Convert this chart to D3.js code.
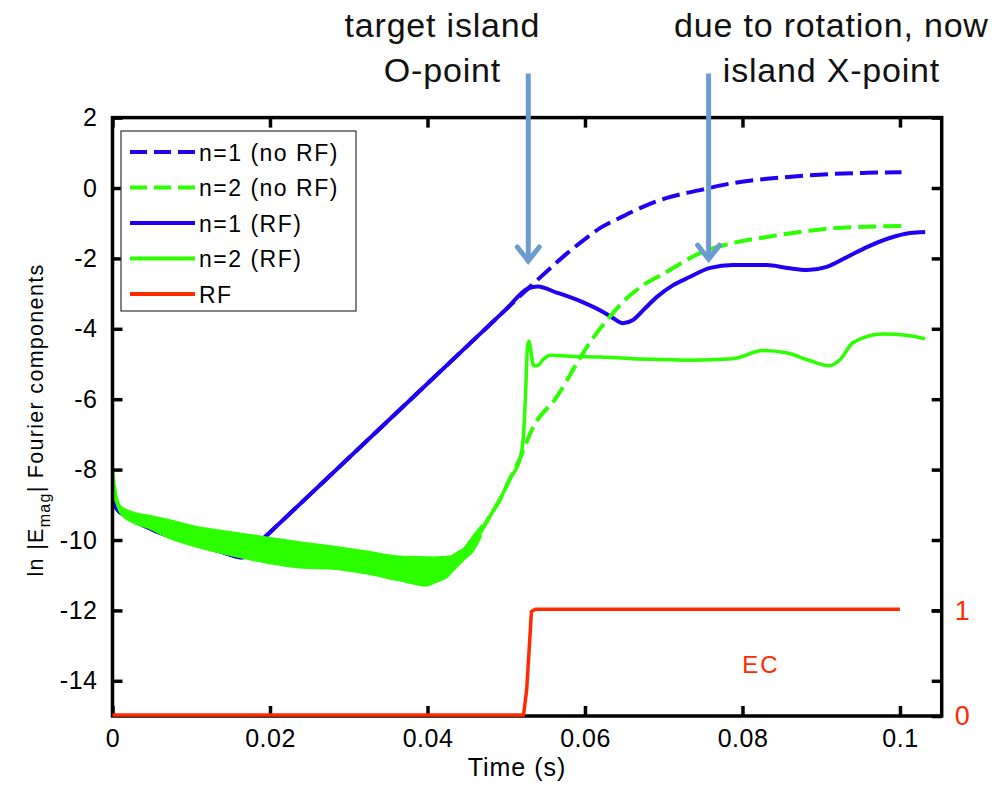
<!DOCTYPE html>
<html>
<head>
<meta charset="utf-8">
<script src="https://cdn.jsdelivr.net/npm/d3@7"></script>
<style>
  html, body { margin: 0; padding: 0; background: #fff; }
  svg { display: block; font-family: "Liberation Sans", Arial, Helvetica, sans-serif; }
</style>
</head>
<body>
<svg id="chart" width="1003" height="790"></svg>
<script>
// ---------------- DATA ----------------
const xTicks = [0, 0.02, 0.04, 0.06, 0.08, 0.1];
const xTickLabels = ["0", "0.02", "0.04", "0.06", "0.08", "0.1"];
const yTicks = [2, 0, -2, -4, -6, -8, -10, -12, -14];
const rfTicks = [0, 1];
const rfTickLabels = ["0", "1"];

// n=1 shared early evolution (identical with and without RF), linear growth phase
const n1Early = [[0,-8.9],[0.0005,-9.1],[0.002,-9.35],[0.005,-9.7],[0.008,-9.95],[0.011,-10.15],[0.014,-10.35],[0.0166,-10.5],[0.0171,-10.394],[0.025,-8.725],[0.035,-6.612],[0.045,-4.498],[0.05,-3.442],[0.0528,-2.85]];
// n=1 without RF (dashed blue)
const n1NoRF = [[0.055,-2.4],[0.0575,-1.9],[0.06,-1.45],[0.0619,-1.14],[0.0644,-0.85],[0.067,-0.57],[0.0704,-0.28],[0.0746,-0.06],[0.0788,0.14],[0.0831,0.26],[0.0873,0.34],[0.0916,0.4],[0.0958,0.43],[0.1002,0.45]];
// n=1 with RF (solid blue)
const n1RF = [[0.054,-2.8],[0.0564,-2.97],[0.0597,-3.24],[0.0623,-3.52],[0.0636,-3.7],[0.0648,-3.84],[0.0661,-3.75],[0.0674,-3.47],[0.0691,-3.1],[0.0712,-2.76],[0.0733,-2.53],[0.0759,-2.27],[0.0788,-2.19],[0.0831,-2.19],[0.0857,-2.27],[0.0882,-2.33],[0.0907,-2.24],[0.0933,-1.96],[0.0958,-1.68],[0.0987,-1.42],[0.1013,-1.28],[0.1032,-1.25]];

// n=2 early oscillating band (upper / lower envelope), shared by both runs
const n2BandUpper = [[0,-7.87],[0.0002,-8.4],[0.0005,-8.78],[0.001,-9.06],[0.0026,-9.23],[0.0069,-9.43],[0.0111,-9.66],[0.0153,-9.8],[0.0196,-9.94],[0.0238,-10.08],[0.028,-10.2],[0.0323,-10.34],[0.0365,-10.48],[0.0408,-10.51],[0.0429,-10.48],[0.0445,-10.28],[0.0467,-9.66]];
const n2BandLower = [[0,-8.1],[0.0003,-8.8],[0.001,-9.2],[0.0026,-9.49],[0.0048,-9.66],[0.0069,-9.9],[0.0111,-10.2],[0.0153,-10.43],[0.0196,-10.63],[0.0238,-10.77],[0.028,-10.8],[0.0323,-10.94],[0.0365,-11.14],[0.0399,-11.28],[0.0424,-11.05],[0.0441,-10.65],[0.0458,-10.28],[0.0467,-9.9]];
// n=2 shared growth after the band
const n2Rise = [[0.0467,-9.78],[0.048,-9.3],[0.0492,-8.85],[0.0505,-8.25],[0.0518,-7.65]];
// n=2 without RF (dashed green)
const n2NoRF = [[0.0534,-6.8],[0.0564,-5.94],[0.059,-4.97],[0.0606,-4.4],[0.0628,-3.75],[0.0648,-3.24],[0.0674,-2.76],[0.07,-2.43],[0.0746,-1.85],[0.0788,-1.56],[0.0831,-1.39],[0.0873,-1.25],[0.0916,-1.14],[0.0958,-1.1],[0.1002,-1.08]];
// n=2 with RF (solid green)
const n2RF = [[0.0522,-7.0],[0.0525,-5.6],[0.0527,-4.5],[0.0529,-4.35],[0.0531,-4.6],[0.0535,-5.05],[0.0539,-5.05],[0.0548,-4.85],[0.0556,-4.75],[0.058,-4.78],[0.062,-4.8],[0.066,-4.85],[0.07,-4.87],[0.0733,-4.89],[0.0788,-4.85],[0.0826,-4.62],[0.0857,-4.69],[0.0885,-4.9],[0.091,-5.05],[0.0925,-4.85],[0.094,-4.4],[0.0978,-4.15],[0.1008,-4.18],[0.1032,-4.28]];

// RF (EC) on/off, right axis
const rfSignal = [[0,0],[0.0522,0],[0.0526,0.24],[0.053,0.73],[0.0532,0.98],[0.0537,1],[0.1,1]];

const legendLabels = ["n=1 (no RF)", "n=2 (no RF)", "n=1 (RF)", "n=2 (RF)", "RF"];
const annotationLines = [["target island", "O-point"], ["due to rotation, now", "island X-point"]];
const annotationArrows = [[0.0528, -2.1], [0.0757, -2.05]];

// ---------------- STYLES ----------------
const BLUE = "#1f00f2", GREEN = "#2bff00", RED = "#ff2a00", ARROW = "#6b9bd1";

// ---------------- SCALES ----------------
const svg = d3.select("#chart");
const L = 112.5, R = 941.7, T = 117.6, B = 716;
const x = d3.scaleLinear().domain([0, 0.10530]).range([L, R]);
const y = d3.scaleLinear().domain([-15, 2]).range([B, T]);
const yR = d3.scaleLinear().domain([0, 1]).range([y(-15), y(-12)]);

const line = d3.line().x(d => x(d[0])).y(d => y(d[1])).curve(d3.curveMonotoneX);
const lineR = d3.line().x(d => x(d[0])).y(d => yR(d[1]));
const area = d3.area().x(d => x(d[0])).y0(d => y(d[1])).y1(d => y(d[2])).curve(d3.curveMonotoneX);

const plot = svg.append("g");
plot.append("clipPath").attr("id", "clip").append("rect")
  .attr("x", L).attr("y", T).attr("width", R - L).attr("height", B - T);
const g = plot.append("g").attr("clip-path", "url(#clip)");

// blue curves
g.append("path").attr("d", line(n1Early.concat(n1NoRF)))
  .attr("fill", "none").attr("stroke", BLUE).attr("stroke-width", 4).attr("stroke-dasharray", "18,7");
g.append("path").attr("d", line(n1Early.concat(n1RF)))
  .attr("fill", "none").attr("stroke", BLUE).attr("stroke-width", 4);

// green band: merge envelopes onto common times
const bandTimes = Array.from(new Set(n2BandUpper.map(d => d[0]).concat(n2BandLower.map(d => d[0])))).sort((a, b) => a - b);
const interp = (arr, t) => {
  for (let i = 0; i < arr.length - 1; i++) {
    if (t >= arr[i][0] && t <= arr[i + 1][0]) {
      const f = (t - arr[i][0]) / (arr[i + 1][0] - arr[i][0]);
      return arr[i][1] + f * (arr[i + 1][1] - arr[i][1]);
    }
  }
  return arr[arr.length - 1][1];
};
const band = bandTimes.map(t => [t, interp(n2BandLower, t), interp(n2BandUpper, t)]);
g.append("path").attr("d", area(band)).attr("fill", GREEN).attr("stroke", GREEN).attr("stroke-width", 3);

g.append("path").attr("d", line(n2Rise.concat(n2NoRF)))
  .attr("fill", "none").attr("stroke", GREEN).attr("stroke-width", 4).attr("stroke-dasharray", "18,7");
g.append("path").attr("d", line(n2Rise.concat(n2RF)))
  .attr("fill", "none").attr("stroke", GREEN).attr("stroke-width", 3.5);

// ---------------- AXES ----------------
const styleAxis = sel => {
  sel.select(".domain").remove();
  sel.selectAll(".tick line").attr("stroke", "#000").attr("stroke-width", 3.5);
  sel.selectAll(".tick text").attr("font-size", 25).attr("fill", "#000").attr("letter-spacing", "0.5px");
};
svg.append("g").attr("transform", `translate(0,${B})`)
  .call(d3.axisBottom(x).tickValues(xTicks).tickFormat((d, i) => xTickLabels[i]).tickSize(-10).tickPadding(13))
  .call(styleAxis);
svg.append("g").attr("transform", `translate(0,${T})`)
  .call(d3.axisTop(x).tickValues(xTicks).tickFormat("").tickSize(-10))
  .call(styleAxis);
svg.append("g").attr("transform", `translate(${L},0)`)
  .call(d3.axisLeft(y).tickValues(yTicks).tickFormat(d => d).tickSize(-10).tickPadding(15))
  .call(styleAxis);
svg.append("g").attr("transform", `translate(${R},0)`)
  .call(d3.axisRight(y).tickValues(yTicks).tickFormat("").tickSize(-10))
  .call(styleAxis);
const rAx = svg.append("g").attr("transform", `translate(${R},0)`)
  .call(d3.axisRight(yR).tickValues(rfTicks).tickFormat((d, i) => rfTickLabels[i]).tickSize(-10).tickPadding(13))
  .call(styleAxis);
rAx.selectAll(".tick text").attr("fill", RED).attr("font-size", 27);

// frame
svg.append("rect").attr("x", L).attr("y", T).attr("width", R - L).attr("height", B - T)
  .attr("fill", "none").attr("stroke", "#000").attr("stroke-width", 3.5);

// RF signal (drawn over the frame, as in the original)
svg.append("path").attr("d", lineR(rfSignal.map(d => [d[0], d[1] + 0.01])))
  .attr("fill", "none").attr("stroke", RED).attr("stroke-width", 3.5).attr("stroke-linejoin", "round");

// axis titles
svg.append("text").attr("x", 517).attr("y", 776).attr("text-anchor", "middle")
  .attr("font-size", 25).attr("letter-spacing", "1px").text("Time (s)");

const yl = svg.append("text").attr("transform", "translate(43,420) rotate(-90)")
  .attr("text-anchor", "middle").attr("font-size", 21.5).attr("letter-spacing", "1.3px");
yl.append("tspan").text("ln |E");
yl.append("tspan").attr("font-size", 16).attr("dy", 7).text("mag");
yl.append("tspan").attr("dy", -7).text("| Fourier components");

// EC label
svg.append("text").attr("x", 761).attr("y", 673).attr("text-anchor", "middle")
  .attr("font-size", 24).attr("letter-spacing", "2px").attr("fill", RED).text("EC");

// ---------------- LEGEND ----------------
const lg = svg.append("g");
lg.append("rect").attr("x", 121).attr("y", 131).attr("width", 235).attr("height", 180)
  .attr("fill", "#fff").attr("stroke", "#333").attr("stroke-width", 1.2);
const legendStyles = [
  {c: BLUE, dash: "17,7"}, {c: GREEN, dash: "17,7"}, {c: BLUE, dash: null}, {c: GREEN, dash: null}, {c: RED, dash: null}
];
legendLabels.forEach((lab, i) => {
  const yy = 152 + i * 35.5;
  const s = legendStyles[i];
  const ln = lg.append("line").attr("x1", 130).attr("x2", 195).attr("y1", yy).attr("y2", yy)
    .attr("stroke", s.c).attr("stroke-width", 4);
  if (s.dash) ln.attr("stroke-dasharray", s.dash);
  lg.append("text").attr("x", 199).attr("y", yy + 8.5).attr("font-size", 23)
    .attr("letter-spacing", "1.5px").text(lab);
});

// ---------------- ANNOTATIONS ----------------
const annCenters = [442, 831];
annotationLines.forEach((lines, i) => {
  lines.forEach((t, j) => {
    svg.append("text").attr("x", annCenters[i] + 0.4).attr("y", 37 + j * 44.5)
      .attr("text-anchor", "middle").attr("font-size", 34).attr("letter-spacing", "0.8px")
      .attr("fill", "#111").text(t);
  });
});
annotationArrows.forEach(a => {
  const ax = x(a[0]), ty = y(a[1]), top = y(3.25);
  svg.append("line").attr("x1", ax).attr("x2", ax).attr("y1", top).attr("y2", ty - 3)
    .attr("stroke", ARROW).attr("stroke-width", 5);
  svg.append("polyline")
    .attr("points", `${ax - 11},${ty - 15} ${ax},${ty - 1} ${ax + 11},${ty - 15}`)
    .attr("fill", "none").attr("stroke", ARROW).attr("stroke-width", 5)
    .attr("stroke-linejoin", "miter").attr("stroke-linecap", "round");
});
</script>
</body>
</html>
